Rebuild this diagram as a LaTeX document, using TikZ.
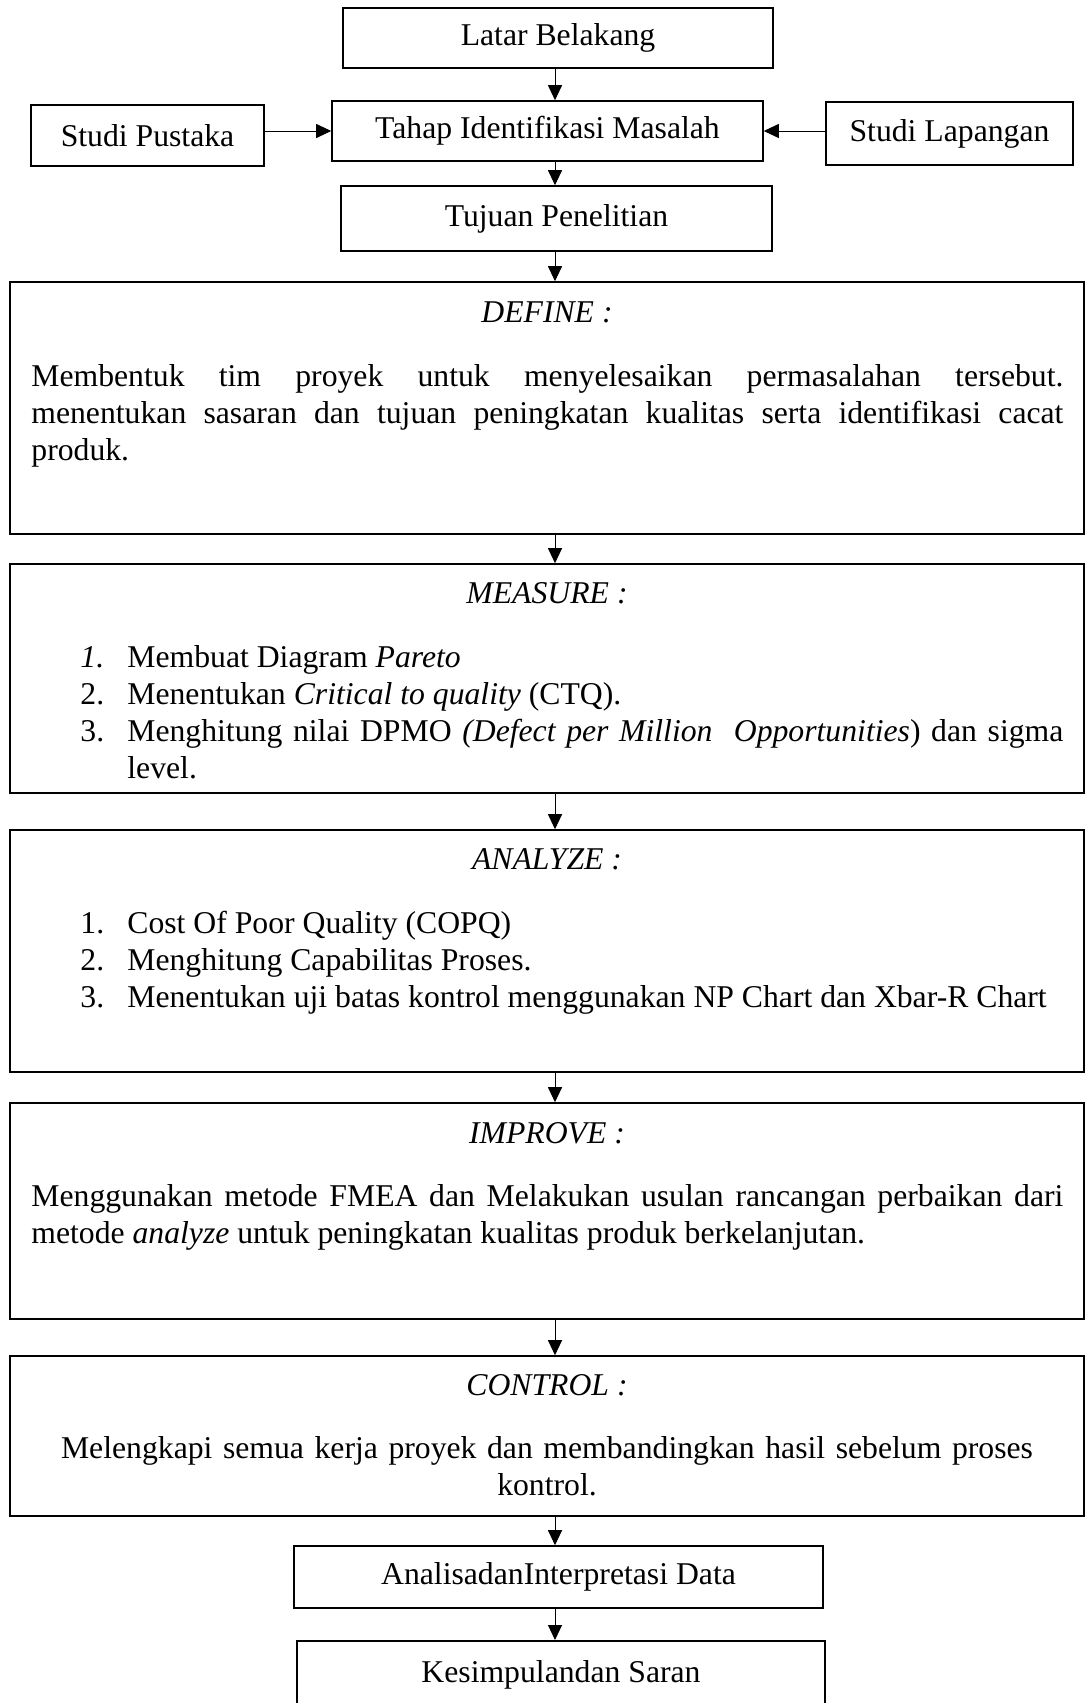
\documentclass[tikz,border=0pt]{standalone}
\usepackage{fontspec}
\setmainfont{Liberation Serif}
\usepackage{tikz}
\usetikzlibrary{positioning, arrows.meta}
\newcommand{\itm}[2]{\noindent\hangindent=23.5pt\hangafter=1\makebox[23.5pt][l]{#1}#2\par}

\begin{document}
\begin{tikzpicture}[
      x=0.5pt, y=-0.5pt,
      font=\fontsize{15.85}{18.5}\selectfont,
      box/.style={draw, line width=0.8pt, inner sep=0pt, align=center},
      bigbox/.style={draw, line width=0.8pt, minimum width=537pt, inner sep=0pt},
      head/.style={inner sep=0pt, anchor=base, font=\fontsize{15.85}{18.5}\selectfont\itshape},
      txt/.style={inner sep=0pt, text width=#1, align=justify, anchor=base west},
      arr/.style={-{Triangle[length=7.5pt,width=7pt]}, line width=0.5pt}
  ]
    \useasboundingbox (0,0) rectangle (1086,1703);
    \node[box, minimum width=215pt, minimum height=30pt](latar) at (558,38){Latar Belakang};
    \node[box, minimum width=215.5pt, minimum height=30pt](tahap) at (547.5,131){Tahap Identifikasi Masalah};
    \node[box, minimum width=116.5pt, minimum height=30.5pt](pustaka) at (147.5,135.5){Studi Pustaka};
    \node[box, minimum width=123.5pt, minimum height=31.5pt](lapangan) at (949.5,133.5){Studi Lapangan};
    \node[box, minimum width=215.5pt, minimum height=32.5pt](tujuan) at (556.5,218.5){Tujuan Penelitian};

    \node[bigbox, minimum height=126pt](define) at (547,408){};
    \node[head](definet) at (547,322){DEFINE :};
    \node[txt=516pt](defineb) at (31,386){Membentuk tim proyek untuk menyelesaikan permasalahan tersebut.\linebreak menentukan sasaran dan tujuan peningkatan kualitas serta identifikasi cacat\linebreak produk.};

    \node[bigbox, minimum height=114.5pt](measure) at (547,678.5){};
    \node[head](measuret) at (547,603){MEASURE :};
    \node[txt=491.5pt](measureb) at (80,667){\itm{\textit{1.}}{Membuat Diagram \textit{Pareto}}\itm{2.}{Menentukan \textit{Critical to quality} (CTQ).}\itm{3.}{Menghitung nilai DPMO \textit{(Defect per Million\ \ Opportunities}) dan sigma\linebreak level.}};

    \node[bigbox, minimum height=121pt](analyze) at (547,951){};
    \node[head](analyzet) at (547,869){ANALYZE :};
    \node[txt=491.5pt](analyzeb) at (80,933){\itm{1.}{Cost Of Poor Quality (COPQ)}\itm{2.}{Menghitung Capabilitas Proses.}\itm{3.}{Menentukan uji batas kontrol menggunakan NP Chart dan Xbar-R Chart}};

    \node[bigbox, minimum height=108pt](improve) at (547,1211){};
    \node[head](improvet) at (547,1143){IMPROVE :};
    \node[txt=516pt](improveb) at (31,1206){Menggunakan metode FMEA dan Melakukan usulan rancangan perbaikan dari\linebreak metode \textit{analyze} untuk peningkatan kualitas produk berkelanjutan.};

    \node[bigbox, minimum height=80pt](control) at (547,1436){};
    \node[head](controlt) at (547,1395){CONTROL :};
    \node[inner sep=0pt, text width=516pt, align=center, anchor=base](controlb) at (547,1458){Melengkapi semua kerja proyek dan membandingkan hasil sebelum proses\\kontrol.};

    \node[box, minimum width=264.5pt, minimum height=31pt](analisa) at (558.5,1577){AnalisadanInterpretasi Data};
    \node[box, anchor=north, minimum width=264pt, text height=21pt, text depth=29pt](kesimpulan) at (561,1640){Kesimpulandan Saran};

    \coordinate(ax) at (555,0);
    \draw[arr](ax |- latar.south)--(ax |- tahap.north); \draw[arr](ax |- tahap.south)--(ax |- tujuan.north);
    \draw[arr](pustaka.east |- tahap)--(tahap.west); \draw[arr](lapangan.west |- tahap)--(tahap.east);
    \draw[arr](ax |- tujuan.south)--(ax |- define.north);
    \draw[arr](ax |- define.south)--(ax |- measure.north);
    \draw[arr](ax |- measure.south)--(ax |- analyze.north);
    \draw[arr](ax |- analyze.south)--(ax |- improve.north);
    \draw[arr](ax |- improve.south)--(ax |- control.north);
    \draw[arr](ax |- control.south)--(ax |- analisa.north);
    \draw[arr](ax |- analisa.south)--(ax |- kesimpulan.north);
  \end{tikzpicture}
\end{document}
